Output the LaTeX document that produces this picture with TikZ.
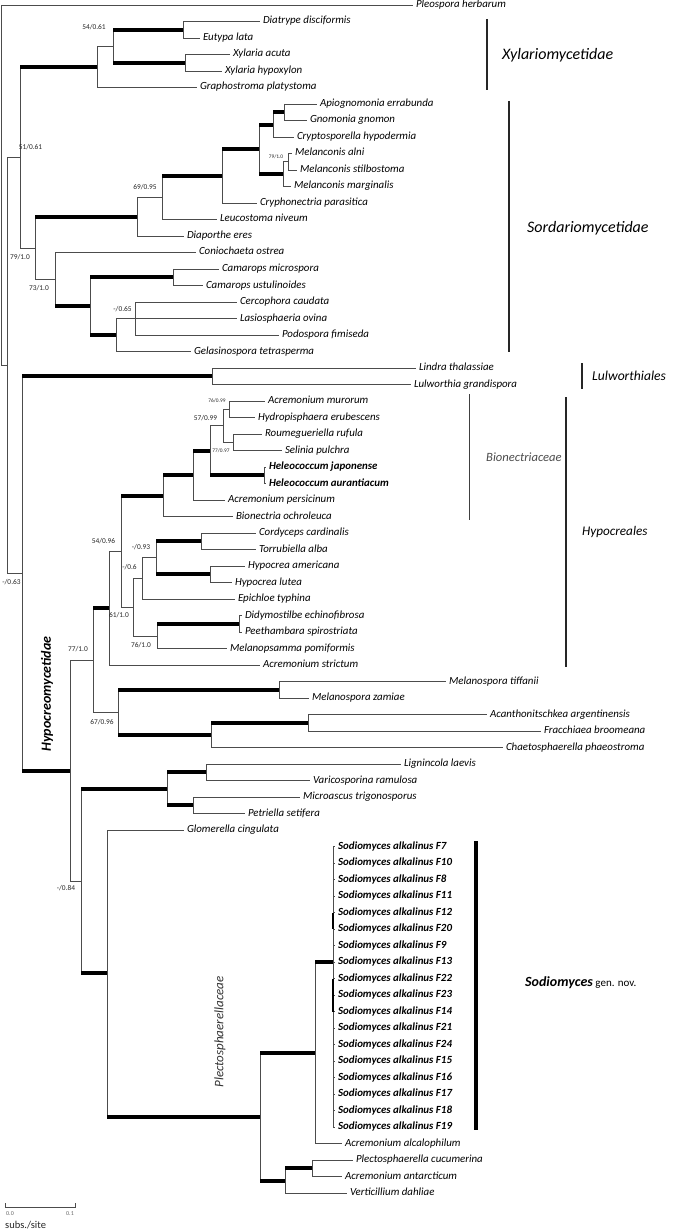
\documentclass[tikz,border=0pt]{standalone}
\usepackage{fontspec}
\setmainfont{Carlito}
\newcommand\VL[3]{\draw[thn] (#1 |- #2) -- (#1 |- #3);}
\newcommand\HL[3][thn]{\draw[#1] (#2 |- #3) -- (#3);}
\tikzset{
  thn/.style={line width=0.9pt, draw=black!70},
  thk/.style={line width=4pt, draw=black, line cap=butt},
  tip/.style={anchor=west, inner xsep=3pt, inner ysep=0pt, outer sep=0pt,
    font=\fontsize{10.9}{12}\selectfont\itshape, text height=0.62em, text depth=0.12em},
  btip/.style={tip, font=\fontsize{10.9}{12}\selectfont\bfseries\itshape},
  supp/.style={inner sep=0pt, font=\fontsize{7.4}{8}\selectfont, text=black!85},
  ssupp/.style={inner sep=0pt, font=\fontsize{5.4}{6}\selectfont, text=black!85},
  bar/.style={line width=1.5pt, draw=black!85},
  grp/.style={anchor=west, inner sep=0pt, font=\fontsize{16}{18}\selectfont\itshape},
}
\begin{document}
\begin{tikzpicture}[x=1pt,y=-1pt]
\useasboundingbox (0,0) rectangle (672,1230);
% ---------- tips ----------
\node[tip] (t1) at (413,5) {Pleospora herbarum};
\node[tip] (t2) at (260,21.5) {Diatrype disciformis};
\node[tip] (t3) at (200,38) {Eutypa lata};
\node[tip] (t4) at (230,54.5) {Xylaria acuta};
\node[tip] (t5) at (222,71) {Xylaria hypoxylon};
\node[tip] (t6) at (197,87.5) {Graphostroma platystoma};
\node[tip] (t7) at (317,104) {Apiognomonia errabunda};
\node[tip] (t8) at (307,120.5) {Gnomonia gnomon};
\node[tip] (t9) at (294,137) {Cryptosporella hypodermia};
\node[tip] (t10) at (292,153.5) {Melanconis alni};
\node[tip] (t11) at (297,170) {Melanconis stilbostoma};
\node[tip] (t12) at (291,186.5) {Melanconis marginalis};
\node[tip] (t13) at (257,203) {Cryphonectria parasitica};
\node[tip] (t14) at (217,219.5) {Leucostoma niveum};
\node[tip] (t15) at (184,236) {Diaporthe eres};
\node[tip] (t16) at (196,252.5) {Coniochaeta ostrea};
\node[tip] (t17) at (219,269) {Camarops microspora};
\node[tip] (t18) at (203,285.5) {Camarops ustulinoides};
\node[tip] (t19) at (237,302) {Cercophora caudata};
\node[tip] (t20) at (237,318.5) {Lasiosphaeria ovina};
\node[tip] (t21) at (279,335) {Podospora fimiseda};
\node[tip] (t22) at (191,351.5) {Gelasinospora tetrasperma};
\node[tip] (t23) at (416,368) {Lindra thalassiae};
\node[tip] (t24) at (411,384.5) {Lulworthia grandispora};
\node[tip] (t25) at (265,401) {Acremonium murorum};
\node[tip] (t26) at (255,417.5) {Hydropisphaera erubescens};
\node[tip] (t27) at (262,434) {Roumegueriella rufula};
\node[tip] (t28) at (282,450.5) {Selinia pulchra};
\node[btip] (t29) at (266,467) {Heleococcum japonense};
\node[btip] (t30) at (266,483.5) {Heleococcum aurantiacum};
\node[tip] (t31) at (225,500) {Acremonium persicinum};
\node[tip] (t32) at (233,516.5) {Bionectria ochroleuca};
\node[tip] (t33) at (256,533) {Cordyceps cardinalis};
\node[tip] (t34) at (256,549.5) {Torrubiella alba};
\node[tip] (t35) at (245,566) {Hypocrea americana};
\node[tip] (t36) at (232,582.5) {Hypocrea lutea};
\node[tip] (t37) at (235,599) {Epichloe typhina};
\node[tip] (t38) at (242,615.5) {Didymostilbe echinofibrosa};
\node[tip] (t39) at (242,632) {Peethambara spirostriata};
\node[tip] (t40) at (227,648.5) {Melanopsamma pomiformis};
\node[tip] (t41) at (260,665) {Acremonium strictum};
\node[tip] (t42) at (446,681.5) {Melanospora tiffanii};
\node[tip] (t43) at (309,698) {Melanospora zamiae};
\node[tip] (t44) at (487,714.5) {Acanthonitschkea argentinensis};
\node[tip] (t45) at (541,731) {Fracchiaea broomeana};
\node[tip] (t46) at (503,747.5) {Chaetosphaerella phaeostroma};
\node[tip] (t47) at (401,764) {Lignincola laevis};
\node[tip] (t48) at (310,780.5) {Varicosporina ramulosa};
\node[tip] (t49) at (300,797) {Microascus trigonosporus};
\node[tip] (t50) at (245,813.5) {Petriella setifera};
\node[tip] (t51) at (184,830) {Glomerella cingulata};
\foreach \s [count=\k from 0] in {F7,F10,F8,F11,F12,F20,F9,F13,F22,F23,F14,F21,F24,F15,F16,F17,F18,F19}
  \node[btip, inner xsep=3.5pt] (s\k) at (334.5,{846.5+16.5*\k}) {Sodiomyces alkalinus \s};
\node[tip] (t70) at (342,1143.5) {Acremonium alcalophilum};
\node[tip] (t71) at (353,1160) {Plectosphaerella cucumerina};
\node[tip] (t72) at (342,1176.5) {Acremonium antarcticum};
\node[tip] (t73) at (347,1193) {Verticillium dahliae};
% ---------- internal nodes ----------
\coordinate (r) at (1,365.5);
\coordinate (n7) at (7,365.5);
\coordinate (n20) at (20,157.5);
\coordinate (n97) at (97,66.875);
\coordinate (n113) at (113,46.25);
\coordinate (n183) at (183,29.75);
\coordinate (n185) at (185,62.75);
\coordinate (n35) at (35,248.12);
\coordinate (n137) at (137,216.92);
\coordinate (n162) at (162,197.84);
\coordinate (n222) at (222,176.19);
\coordinate (n259) at (259,149.375);
\coordinate (n273) at (273,124.625);
\coordinate (n284) at (284,112.25);
\coordinate (n283) at (283,174.125);
\coordinate (n288) at (288,161.75);
\coordinate (n55) at (55,279.31);
\coordinate (n90) at (90,306.125);
\coordinate (n173) at (173,277.25);
\coordinate (n116) at (116,335);
\coordinate (n135) at (135,318.5);
\coordinate (n22) at (22,573.5);
\coordinate (n212) at (212,376.25);
\coordinate (n70) at (70,770.7);
\coordinate (n93) at (93,660.36);
\coordinate (n109) at (109,608.28);
\coordinate (n121) at (121,551.56);
\coordinate (n163) at (163,495.875);
\coordinate (n193) at (193,475.25);
\coordinate (n210) at (210,450.5);
\coordinate (n223) at (223,425.75);
\coordinate (n229) at (229,409.25);
\coordinate (n233) at (233,442.25);
\coordinate (n264) at (264,475.25);
\coordinate (n133) at (133,607.25);
\coordinate (n142) at (142,578.375);
\coordinate (n156) at (156,557.75);
\coordinate (n201) at (201,541.25);
\coordinate (hyp) at (210,574.25);
\coordinate (n157) at (157,636.125);
\coordinate (n239) at (239,623.75);
\coordinate (n118) at (118,712.44);
\coordinate (n279) at (279,689.75);
\coordinate (n211) at (211,735.125);
\coordinate (n308) at (308,722.75);
\coordinate (n81) at (81,881.05);
\coordinate (n167) at (167,788.75);
\coordinate (n206) at (206,772.25);
\coordinate (n193b) at (193,805.25);
\coordinate (n107) at (107,973.34);
\coordinate (n260) at (260,1116.69);
\coordinate (n315) at (315,1052.75);
\coordinate (sod) at (333,962);
\coordinate (n285) at (285,1180.625);
\coordinate (n312) at (312,1168.25);
% ---------- thin verticals and branches ----------
\VL{r}{t1.west}{n7} \HL{r}{t1.west} \HL{r}{n7}
\VL{n7}{n20}{n22} \HL{n7}{n20} \HL{n7}{n22}
\VL{n20}{n97}{n35} \HL{n20}{n35}
\VL{n97}{n113}{t6.west} \HL{n97}{n113} \HL{n97}{t6.west}
\VL{n113}{n183}{n185}
\VL{n183}{t2.west}{t3.west} \HL{n183}{t2.west} \HL{n183}{t3.west}
\VL{n185}{t4.west}{t5.west} \HL{n185}{t4.west} \HL{n185}{t5.west}
\VL{n35}{n137}{n55} \HL{n35}{n55}
\VL{n137}{n162}{t15.west} \HL{n137}{n162} \HL{n137}{t15.west}
\VL{n162}{n222}{t14.west} \HL{n162}{t14.west}
\VL{n222}{n259}{t13.west} \HL{n222}{t13.west}
\VL{n259}{n273}{n283}
\VL{n273}{n284}{t9.west} \HL{n273}{t9.west}
\VL{n284}{t7.west}{t8.west} \HL{n284}{t7.west} \HL{n284}{t8.west}
\VL{n283}{n288}{t12.west} \HL{n283}{n288} \HL{n283}{t12.west}
\VL{n288}{t10.west}{t11.west} \HL{n288}{t10.west} \HL{n288}{t11.west}
\VL{n55}{t16.west}{n90} \HL{n55}{t16.west}
\VL{n90}{n173}{n116}
\VL{n173}{t17.west}{t18.west} \HL{n173}{t17.west} \HL{n173}{t18.west}
\VL{n116}{t20.west}{t22.west} \HL{n116}{n135} \HL{n116}{t20.west} \HL{n116}{t22.west}
\VL{n135}{t19.west}{t21.west} \HL{n135}{t19.west} \HL{n135}{t21.west}
\VL{n22}{n212}{n70}
\VL{n212}{t23.west}{t24.west} \HL{n212}{t23.west} \HL{n212}{t24.west}
\VL{n70}{n93}{n81} \HL{n70}{n93} \HL{n70}{n81}
\VL{n93}{n109}{n118} \HL{n93}{n118}
\VL{n109}{n121}{t41.west} \HL{n109}{n121} \HL{n109}{t41.west}
\VL{n121}{n163}{n133} \HL{n121}{n133}
\VL{n163}{n193}{t32.west} \HL{n163}{t32.west}
\VL{n193}{n210}{t31.west} \HL{n193}{t31.west}
\VL{n210}{n223}{n264} \HL{n210}{n223}
\VL{n223}{n229}{n233} \HL{n223}{n229} \HL{n223}{n233}
\VL{n229}{t25.west}{t26.west} \HL{n229}{t25.west} \HL{n229}{t26.west}
\VL{n233}{t27.west}{t28.west} \HL{n233}{t27.west} \HL{n233}{t28.west}
\VL{n264}{t29.west}{t30.west} \HL{n264}{t29.west} \HL{n264}{t30.west}
\VL{n133}{n142}{n157} \HL{n133}{n142} \HL{n133}{n157}
\VL{n142}{n156}{t37.west} \HL{n142}{n156} \HL{n142}{t37.west}
\VL{n156}{n201}{hyp}
\VL{n201}{t33.west}{t34.west} \HL{n201}{t33.west} \HL{n201}{t34.west}
\VL{hyp}{t35.west}{t36.west} \HL{hyp}{t35.west} \HL{hyp}{t36.west}
\VL{n157}{n239}{t40.west} \HL{n157}{t40.west}
\VL{n239}{t38.west}{t39.west} \HL{n239}{t38.west} \HL{n239}{t39.west}
\VL{n118}{n279}{n211}
\VL{n279}{t42.west}{t43.west} \HL{n279}{t42.west} \HL{n279}{t43.west}
\VL{n211}{n308}{t46.west} \HL{n211}{t46.west}
\VL{n308}{t44.west}{t45.west} \HL{n308}{t44.west} \HL{n308}{t45.west}
\VL{n81}{n167}{n107}
\VL{n167}{n206}{n193b}
\VL{n206}{t47.west}{t48.west} \HL{n206}{t47.west} \HL{n206}{t48.west}
\VL{n193b}{t49.west}{t50.west} \HL{n193b}{t49.west} \HL{n193b}{t50.west}
\VL{n107}{t51.west}{n260} \HL{n107}{t51.west}
\VL{n260}{n315}{n285}
\VL{n315}{sod}{t70.west} \HL{n315}{t70.west}
\VL{sod}{s0.west}{s17.west}
\foreach \k in {0,...,17} {\HL{sod}{s\k.west}}
\draw[line width=1.6pt] (sod |- s4.west) -- (sod |- s5.west);
\draw[line width=1.6pt] (sod |- s8.west) -- (sod |- s10.west);
\VL{n285}{n312}{t73.west} \HL{n285}{t73.west}
\VL{n312}{t71.west}{t72.west} \HL{n312}{t71.west} \HL{n312}{t72.west}
% ---------- thick branches ----------
\HL[thk]{n20}{n97}
\HL[thk]{n113}{n183} \HL[thk]{n113}{n185}
\HL[thk]{n35}{n137}
\HL[thk]{n162}{n222} \HL[thk]{n222}{n259}
\HL[thk]{n259}{n273} \HL[thk]{n259}{n283} \HL[thk]{n273}{n284}
\HL[thk]{n55}{n90} \HL[thk]{n90}{n173} \HL[thk]{n90}{n116}
\HL[thk]{n22}{n212} \HL[thk]{n22}{n70}
\HL[thk]{n93}{n109}
\HL[thk]{n121}{n163} \HL[thk]{n163}{n193} \HL[thk]{n193}{n210} \HL[thk]{n210}{n264}
\HL[thk]{n156}{n201} \HL[thk]{n156}{hyp} \HL[thk]{n157}{n239}
\HL[thk]{n118}{n279} \HL[thk]{n118}{n211} \HL[thk]{n211}{n308}
\HL[thk]{n81}{n167} \HL[thk]{n167}{n206} \HL[thk]{n167}{n193b}
\HL[thk]{n81}{n107} \HL[thk]{n107}{n260}
\HL[thk]{n260}{n315} \HL[thk]{n315}{sod}
\HL[thk]{n260}{n285} \HL[thk]{n285}{n312}
% ---------- support values ----------
\node[supp] (b1) at (94,27) {54/0.61};
\node[supp] (b2) at (30.5,147) {51/0.61};
\node[supp] (b3) at (20,257) {79/1.0};
\node[supp] (b4) at (39,288) {73/1.0};
\node[supp] (b5) at (145,187) {69/0.95};
\node[ssupp] (b6) at (276,157) {79/1.0};
\node[supp] (b7) at (122.5,309) {-/0.65};
\node[ssupp] (b8) at (217,401) {76/0.99};
\node[supp] (b9) at (205.5,418) {57/0.99};
\node[ssupp] (b10) at (221,451) {77/0.97};
\node[supp] (b11) at (103.5,541) {54/0.96};
\node[supp] (b12) at (141,547) {-/0.93};
\node[supp] (b13) at (129.5,567) {-/0.6};
\node[supp] (b14) at (119,615) {61/1.0};
\node[supp] (b15) at (141,645) {76/1.0};
\node[supp] (b16) at (78,649) {77/1.0};
\node[supp] (b17) at (102,722) {67/0.96};
\node[supp] (b18) at (66,888) {-/0.84};
\node[supp] (b19) at (11.5,582) {-/0.63};
% ---------- clade bars and names ----------
\coordinate (xa) at (487,19); \coordinate (xb) at (487,90);
\coordinate (sa) at (509,101); \coordinate (sb) at (509,352);
\coordinate (la) at (582,363); \coordinate (lb) at (582,389);
\coordinate (ba) at (469,394); \coordinate (bb) at (469,520);
\coordinate (ha) at (566,397); \coordinate (hb) at (566,667);
\coordinate (oa) at (476,841); \coordinate (ob) at (476,1130);
\draw[bar] (xa) -- (xb);
\draw[bar] (sa) -- (sb);
\draw[bar, line width=1.1pt] (la) -- (lb);
\draw[bar, line width=1pt, draw=black!75] (ba) -- (bb);
\draw[bar, line width=1.3pt] (ha) -- (hb);
\draw[line width=3.6pt, draw=black] (oa) -- (ob);
\node[grp] (gx) at (502,55) {Xylariomycetidae};
\node[grp] (gs) at (527,228) {Sordariomycetidae};
\node[grp, font=\fontsize{13.6}{15}\selectfont\itshape] (gl) at (592,376) {Lulworthiales};
\node[grp, font=\fontsize{12.6}{14}\selectfont\itshape, text=black!70] (gb) at (486,457) {Bionectriaceae};
\node[grp, font=\fontsize{13.2}{15}\selectfont\itshape] (gh) at (582,532) {Hypocreales};
\node[grp, font=\fontsize{14}{16}\selectfont] (go) at (525,983) {\bfseries\itshape Sodiomyces\normalfont\fontsize{11}{12}\selectfont\ gen. nov.};
\node[inner sep=0pt, rotate=90, font=\fontsize{14}{16}\selectfont\bfseries\itshape] (gy) at (47,694) {Hypocreomycetidae};
\node[inner sep=0pt, rotate=90, font=\fontsize{13}{15}\selectfont\itshape, text=black!80] (gp) at (220,1032) {Plectosphaerellaceae};
% ---------- scale bar ----------
\coordinate (c0) at (5,1207); \coordinate (c1) at (75,1207);
\draw[thn, line width=0.7pt] ([yshift=4pt]c0) -- (c0) -- (c1) -- ([yshift=4pt]c1);
\node[inner sep=0pt, font=\fontsize{6}{7}\selectfont, text=black!60] (l0) at (10,1214) {0.0};
\node[inner sep=0pt, font=\fontsize{6}{7}\selectfont, text=black!60] (l1) at (70,1214) {0.1};
\node[inner sep=0pt, anchor=west, font=\fontsize{10.5}{12}\selectfont, text=black!85] (ls) at (5,1225) {subs./site};
\end{tikzpicture}
\end{document}
